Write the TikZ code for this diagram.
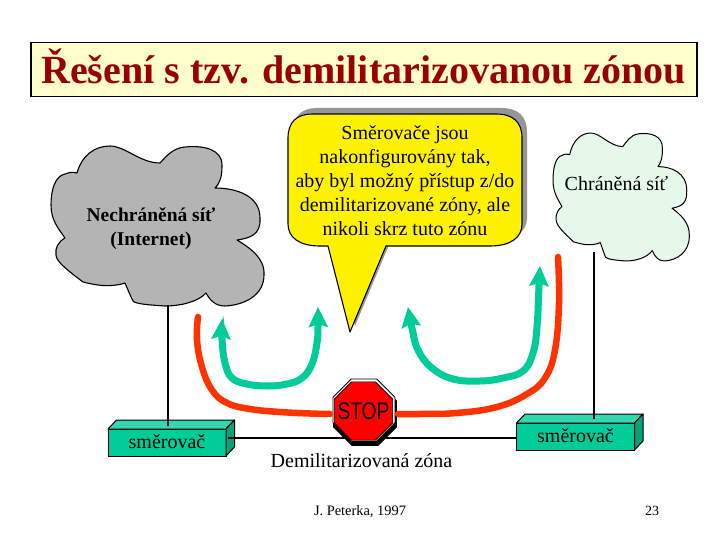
\documentclass[tikz,border=0pt]{standalone}
\usepackage{fontspec}
\setmainfont{Liberation Serif}
\newfontfamily\stopfont{Liberation Sans}
\usetikzlibrary{arrows.meta,shapes.geometric}
\definecolor{titlefill}{HTML}{FFFFCC}
\definecolor{titletext}{HTML}{990000}
\definecolor{cloudgray}{HTML}{B4B4B4}
\definecolor{cloudgreen}{HTML}{E6F8EA}
\definecolor{teal}{HTML}{00CC99}
\definecolor{tealtop}{HTML}{33D6AD}
\definecolor{tealside}{HTML}{00A37A}
\definecolor{redline}{HTML}{FF3300}
\definecolor{shadowgray}{HTML}{969696}
\newcommand{\cloudshape}{(77,173) .. controls (82,155) and (95,146) .. (110,146) .. controls (125,146) and (140,163) .. (160,163)
 .. controls (165,158) and (172,148) .. (185,147) .. controls (205,145) and (222,150) .. (222,165) .. controls (222,175) and (221,182) .. (215,188)
 .. controls (235,188) and (260,195) .. (260,218) .. controls (261,235) and (250,238) .. (237,240)
 .. controls (250,248) and (265,258) .. (264,275) .. controls (264,295) and (245,305) .. (225,306) .. controls (215,306) and (210,300) .. (206,293)
 .. controls (198,302) and (180,306) .. (165,306) .. controls (150,305) and (135,304) .. (133,301) .. controls (130,295) and (128,290) .. (125,283)
 .. controls (110,288) and (95,285) .. (83,282) .. controls (70,272) and (56,262) .. (56,255) .. controls (55,248) and (58,242) .. (65,238)
 .. controls (58,228) and (51,220) .. (51,205) .. controls (51,190) and (55,176) .. (65,174) .. controls (70,172) and (73,172) .. (77,173) -- cycle}
\newcommand{\calloutshape}{(312,114) -- (496,114) .. controls (513,114) and (522,122) .. (522,138) -- (522,224) .. controls (522,238) and (510,246) .. (490,246) -- (386,246) -- (350,332) -- (328,246) -- (320,246) .. controls (300,246) and (288,238) .. (288,224) -- (288,138) .. controls (288,122) and (297,114) .. (312,114) -- cycle}
\newcommand{\fs}[2]{\fontsize{#1pt}{#2pt}\selectfont}
\tikzset{
  x=1pt,y=-1pt,
  cloudline/.style={draw=black,line width=1.1pt,line join=round},
  wire/.style={draw=black,line width=2pt},
  router/.style={draw=black,line width=1pt,fill=teal,minimum width=118pt,minimum height=27pt,inner sep=0pt,outer sep=0pt,text height=11pt,text depth=0pt,font=\fs{20}{22}},
  routertop/.style={draw=black,line width=1pt,fill=tealtop,line join=round},
  routerside/.style={draw=black,line width=1pt,fill=tealside,line join=round},
  greenarrow/.style={draw=teal,line width=7pt,{Stealth[width=19pt,length=20pt,inset=3pt]}-{Stealth[width=19pt,length=20pt,inset=3pt]}},
  redpath/.style={draw=redline,line width=6.5pt},
  octa/.style={regular polygon,regular polygon sides=8,inner sep=0pt,outer sep=0pt},
  label/.style={anchor=base,inner sep=0pt,font=\fs{20}{22}}
}
\begin{document}
\begin{tikzpicture}
\useasboundingbox (0,0) rectangle (720,540);
\fill[white] (0,0) rectangle (720,540);
% title
\node[draw=black,line width=1.5pt,fill=titlefill,minimum width=666pt,minimum height=54pt,inner sep=0pt,anchor=north west] (titlebox) at (30,42) {};
\node[anchor=base,inner sep=0pt,text=titletext,font=\fs{40}{44}\bfseries] (title) at (363.5,84) {Řešení s tzv. demilitarizovanou zónou};
% clouds
\path[cloudline,fill=cloudgray] \cloudshape;
\begin{scope}[shift={(553,133)},xscale=.64,yscale=.8,shift={(-51,-146)}]
\path[cloudline,line width=1pt,fill=cloudgreen] \cloudshape;
\end{scope}
\node[label,font=\fs{19.5}{23}\bfseries] (c1a) at (151,222) {Nechráněná síť};
\node[label,font=\fs{19.5}{23}\bfseries] (c1i) at (151,245) {(Internet)};
\node[label] (c2) at (616.5,191) {Chráněná síť};
% callout
\path[fill=shadowgray,shift={(5,-6)}] \calloutshape;
\path[draw=black,line width=1.1pt,fill=yellow,line join=round] \calloutshape;
\node[align=center,inner sep=0pt,font=\fs{20}{24}] (calltext) at (405,181) {Směrovače jsou\\nakonfigurovány tak,\\aby byl možný přístup z/do\\demilitarizované zóny, ale~\\nikoli skrz tuto zónu};
% coordinates
\coordinate (c1b) at (168,305);
\coordinate (c2b) at (594,252);
\coordinate (g1a) at (222,319);
\coordinate (g1b) at (318,307);
\coordinate (g2a) at (408,307);
\coordinate (g2b) at (540,266);
\coordinate (r1a) at (198,317);
\coordinate (r2a) at (558,257);
% routers
\node[router] (rl) at (167,442.5) {směrovač};
\node[router] (rr) at (575.5,436.5) {směrovač};
\foreach \n in {rl,rr}{
  \path[routertop] (\n.north west) -- ++(8.5,-9) -- ++(118,0) -- (\n.north east) -- cycle;
  \path[routerside] (\n.north east) -- ++(8.5,-9) -- ++(0,27) -- (\n.south east) -- cycle;
}
% wires
\draw[wire] (c1b) -- ([shift={(1,-3)}]rl.north);
\draw[wire] (c2b) -- ([shift={(18.5,-4)}]rr.north);
\draw[wire] ([shift={(2,-4.5)}]rl.east) -- ([yshift=-1.5pt]rr.west);
% green arrows
\draw[greenarrow] plot[smooth,tension=.7] coordinates {(g1a) (222,339) (225,363) (232,378) (247,384) (267,386) (287,384) (302,378) (312,364) (317,343) (318,327) (g1b)};
\draw[greenarrow] plot[smooth,tension=.7] coordinates {(g2a) (412,328) (418,350) (432,368) (453,379) (480,381) (503,378) (523,371) (533,353) (537,327) (539,286) (g2b)};
% stop sign
\node[octa,fill=black,minimum size=69pt] (stopshadow) at (365,414) {};
\node[octa,fill=white,draw=black,line width=.8pt,minimum size=67pt] (stopedge) at (364,410) {};
\node[octa,fill=red,draw=black,line width=.6pt,minimum size=63pt] (stop) at (363.5,411) {};
\node[inner sep=0pt,font=\stopfont\fs{24}{26}] (stoptext) at (363.5,411.5) {\scalebox{.8}[1]{STOP}};
% red lines
\draw[redpath,line cap=round] plot[smooth,tension=.7] coordinates {(r1a) (197,340) (202,367) (212,390) (227,403) (250,409) (280,412) (310,413.5) (330,414)};
\draw[redpath,line cap=round] plot[smooth,tension=.7] coordinates {(r2a) (559,303) (555,350) (545,378) (527,394) (497,407) (457,413) (420,414) (398,414)};
% labels
\node[label] (dz) at (361.5,467) {Demilitarizovaná zóna};
\node[label,font=\fs{14.4}{16}] (author) at (360,515) {J. Peterka, 1997};
\node[label,font=\fs{14}{16}] (page) at (652,515) {23};
\end{tikzpicture}
\end{document}
